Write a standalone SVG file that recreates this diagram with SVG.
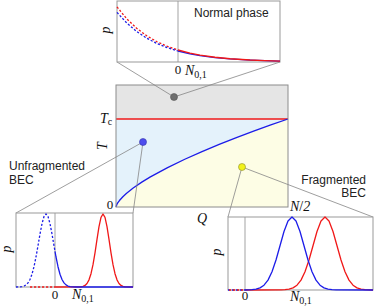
<svg xmlns="http://www.w3.org/2000/svg" width="374" height="308" viewBox="0 0 374 308">
<style>
.frame{fill:none;stroke:#8c8c8c;stroke-width:1}
.iframe{fill:#fff;stroke:#999;stroke-width:1}
.axis{stroke:#999;stroke-width:0.9}
.conn{stroke:#858585;stroke-width:0.8;fill:none}
.red{fill:none;stroke:#f01818;stroke-width:1.3;stroke-linejoin:round}
.blue{fill:none;stroke:#1c1ce8;stroke-width:1.3;stroke-linejoin:round}
.dash{stroke-dasharray:2.2 1.8}
.math{font-family:"Liberation Serif","Times New Roman",serif;font-size:14px;font-style:italic;fill:#111}
.num{font-family:"Liberation Serif","Times New Roman",serif;font-size:13px;fill:#111}
.lbl{font-family:"Liberation Sans",Arial,sans-serif;font-size:12px;fill:#222}
.sub{font-size:10px;font-style:normal}
</style>

<g id="phase-diagram">
  <rect x="116" y="85" width="172" height="34" fill="#e5e5e5"/>
  <rect x="116" y="119" width="172" height="88" fill="#e4f2fb"/>
  <polygon fill="#fdfde5" points="116,207 116.86,204.43 117.72,202.92 119.44,200.51 122.88,196.7 126.32,193.51 133.2,188.04 141.8,182.16 150.4,176.9 167.6,167.57 184.8,159.23 202,151.56 219.2,144.4 236.4,137.62 253.6,131.16 270.8,124.97 288,119 288,207"/>
  <line x1="116" y1="119" x2="288" y2="119" stroke="#f01818" stroke-width="1.3"/>
  <polyline class="blue" stroke-width="1.6" points="116,207 116.86,204.43 117.72,202.92 119.44,200.51 122.88,196.7 126.32,193.51 133.2,188.04 141.8,182.16 150.4,176.9 167.6,167.57 184.8,159.23 202,151.56 219.2,144.4 236.4,137.62 253.6,131.16 270.8,124.97 288,119"/>
  <rect class="frame" x="116" y="85" width="172" height="122"/>
  <text class="math" x="100" y="123">T<tspan class="sub" dy="2">c</tspan></text>
  <text class="math" transform="translate(107,146) rotate(-90)" text-anchor="middle">T</text>
  <text class="num" x="110" y="209" text-anchor="middle">0</text>
  <text class="math" x="202" y="223" text-anchor="middle">Q</text>
  <text class="math" x="290" y="211" font-size="11">N<tspan font-style="normal">/</tspan>2</text>
  <text class="lbl" x="9" y="170" font-size="11.5">Unfragmented</text>
  <text class="lbl" x="9" y="184" font-size="11.5">BEC</text>
  <text class="lbl" x="366" y="184" text-anchor="end">Fragmented</text>
  <text class="lbl" x="366" y="197" text-anchor="end">BEC</text>
</g>

<g id="connectors">
  <line class="conn" x1="117" y1="62" x2="174" y2="97"/>
  <line class="conn" x1="280" y1="62" x2="174" y2="97"/>
  <line class="conn" x1="16" y1="213" x2="143" y2="142"/>
  <line class="conn" x1="133" y1="213" x2="143" y2="142"/>
  <line class="conn" x1="228" y1="217" x2="242" y2="167"/>
  <line class="conn" x1="373" y1="217" x2="242" y2="167"/>
</g>

<g id="markers">
  <circle cx="174" cy="97" r="3.5" fill="#6e6e6e" stroke="#555" stroke-width="0.6"/>
  <circle cx="143" cy="142" r="3.5" fill="#4d4dee" stroke="#3535a8" stroke-width="0.6"/>
  <circle cx="242" cy="167" r="3.5" fill="#f2f21a" stroke="#8a8a30" stroke-width="0.6"/>
</g>

<g id="inset-normal">
  <rect class="iframe" x="117" y="1" width="163" height="61"/>
  <line class="axis" x1="178" y1="1" x2="178" y2="62"/>
  <polyline class="red dash" points="117,6.9 127,19.1 137,28.6 147,35.95 157,41.72 167,46.2 178,50"/>
  <polyline class="blue dash" points="117,12.4 127,23.25 137,31.73 147,38.35 157,43.52 167,47.57 178,51"/>
  <polyline class="blue" stroke-width="1.6" points="178,51 190,53.82 200,55.61 215,57.59 230,58.95 250,60.14 265,60.72 280,61.11"/>
  <polyline class="red" points="178,50 190,53.1 200,55.1 215,57.24 230,58.73 250,60.02 265,60.64 280,61.06"/>
  <text class="lbl" x="194" y="17">Normal phase</text>
  <text class="math" transform="translate(110,30) rotate(-90)" text-anchor="middle">p</text>
  <text class="num" x="178" y="74" text-anchor="middle">0</text>
  <text class="math" x="185" y="75">N<tspan class="sub" dy="3">0,1</tspan></text>
</g>

<g id="inset-unfragmented">
  <rect class="iframe" x="16" y="213" width="117" height="74"/>
  <line class="axis" x1="55" y1="213" x2="55" y2="287"/>
  <polyline class="blue dash" points="16,287 20,286.82 22,286.56 24,286.01 26,284.91 28,282.9 30,279.5 32,274.21 34,266.71 36,256.99 38,245.67 40,234 42,223.68 44,216.55 46,214 48,216.55 50,223.68 52,234 54,245.67 55,251.3"/>
  <line class="red dash" x1="30" y1="287" x2="55" y2="287"/>
  <polyline class="red" points="55,287 81,286.76 83,286.36 85,285.42 87,283.47 89,279.82 91,273.71 93,264.64 95,252.78 97,239.32 99,226.59 101,217.37 103,214 105,217.37 107,226.59 109,239.32 111,252.78 113,264.64 115,273.71 117,279.82 119,283.47 121,285.42 123,286.36 125,286.76 133,287"/>
  <polyline class="blue" points="55,251.3 56,256.99 58,266.71 60,274.21 62,279.5 64,282.9 66,284.91 68,286.01 70,286.56 72,286.82 76,287 133,287"/>
  <text class="math" transform="translate(11,249) rotate(-90)" text-anchor="middle">p</text>
  <text class="num" x="55" y="299" text-anchor="middle">0</text>
  <text class="math" x="72" y="299">N<tspan class="sub" dy="3">0,1</tspan></text>
</g>

<g id="inset-fragmented">
  <rect class="iframe" x="228" y="217" width="145" height="73"/>
  <line class="axis" x1="245" y1="217" x2="245" y2="290"/>
  <line class="blue dash" x1="228" y1="290" x2="245" y2="290"/>
  <line class="red dash" x1="229" y1="290" x2="245" y2="290"/>
  <polyline class="red" points="245,290 281,289.91 285,289.72 289,289.19 293,287.91 297,285.2 301,280.12 305,271.79 309,259.99 313,245.72 317,231.55 321,220.95 325,217 329,220.95 333,231.55 337,245.72 341,259.99 345,271.79 349,280.12 353,285.2 357,287.91 361,289.19 365,289.72 369,289.91 373,290"/>
  <polyline class="blue" points="245,290 248,289.91 252,289.72 256,289.19 260,287.91 264,285.2 268,280.12 272,271.79 276,259.99 280,245.72 284,231.55 288,220.95 292,217 296,220.95 300,231.55 304,245.72 308,259.99 312,271.79 316,280.12 320,285.2 324,287.91 328,289.19 332,289.72 336,289.91 373,290"/>
  <text class="math" transform="translate(221,252) rotate(-90)" text-anchor="middle">p</text>
  <text class="num" x="245" y="300" text-anchor="middle">0</text>
  <text class="math" x="290" y="301">N<tspan class="sub" dy="3">0,1</tspan></text>
</g>
</svg>
